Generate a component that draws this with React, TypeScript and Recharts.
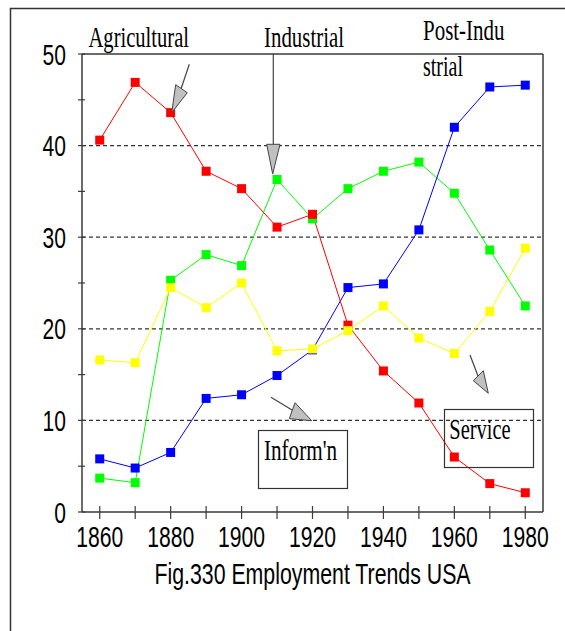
import React from 'react';
import { LineChart, Line, XAxis, YAxis, ReferenceLine } from 'recharts';

const years = [1860, 1870, 1880, 1890, 1900, 1910, 1920, 1930, 1940, 1950, 1960, 1970, 1980];
const agricultural = [40.6, 46.9, 43.6, 37.2, 35.3, 31.1, 32.5, 20.4, 15.4, 11.9, 6.0, 3.1, 2.1];
const industrial = [3.7, 3.2, 25.3, 28.1, 26.9, 36.3, 32.0, 35.3, 37.2, 38.2, 34.8, 28.6, 22.5];
const information = [5.8, 4.8, 6.5, 12.4, 12.8, 14.9, 17.7, 24.5, 24.9, 30.8, 42.0, 46.4, 46.6];
const service = [16.6, 16.3, 24.5, 22.3, 25.0, 17.6, 17.8, 19.8, 22.5, 19.0, 17.3, 21.9, 28.8];

const xTicks = [1860, 1870, 1880, 1890, 1900, 1910, 1920, 1930, 1940, 1950, 1960, 1970, 1980];
const xLabels = [1860, 1880, 1900, 1920, 1940, 1960, 1980];
const yTicks = [0, 5, 10, 15, 20, 25, 30, 35, 40, 45, 50];
const yLabels = [0, 10, 20, 30, 40, 50];
const gridValues = [10, 20, 30, 40];
const title = 'Fig.330 Employment Trends USA';

const data = years.map((year, i) => ({
  year,
  agricultural: agricultural[i],
  industrial: industrial[i],
  information: information[i],
  service: service[i],
}));

const AXIS = '#3a3a3a';
const SANS = "'Liberation Sans', Arial, sans-serif";
const SERIF = "'Liberation Serif', 'Times New Roman', serif";

const XTick = (props: any) => {
  const { x, y, payload } = props;
  const v = payload.value;
  const show = xLabels.includes(v);
  return (
    <g>
      <line x1={x} x2={x} y1={y - 6} y2={y + 7} stroke={AXIS} strokeWidth={1.2} />
      {show && (
        <text x={x} y={y + 35} textAnchor="middle" fontFamily={SANS} fontSize={29} fill="#000"
          textLength={47} lengthAdjust="spacingAndGlyphs">
          {v}
        </text>
      )}
    </g>
  );
};

const YTick = (props: any) => {
  const { x, y, payload } = props;
  const v = payload.value;
  const show = yLabels.includes(v);
  const len = String(v).length;
  return (
    <g>
      <line x1={x - 4} x2={x + 3} y1={y} y2={y} stroke={AXIS} strokeWidth={1.2} />
      {show && (
        <text x={x - 16} y={y + 10.5} textAnchor="end" fontFamily={SANS} fontSize={29} fill="#000"
          textLength={len * 11.7} lengthAdjust="spacingAndGlyphs">
          {v}
        </text>
      )}
    </g>
  );
};

const square = (color: string) => (props: any) => (
  <rect key={`sq-${color}-${props.index}`} x={props.cx - 4.5} y={props.cy - 4.5} width={9} height={9} fill={color} />
);

const Arrow = ({ line, tri }: { line: number[]; tri: number[][] }) => (
  <g>
    <line x1={line[0]} y1={line[1]} x2={line[2]} y2={line[3]} stroke="#444" strokeWidth={1.2} />
    <polygon points={tri.map((p) => p.join(',')).join(' ')} fill="#c0c0c0" stroke="#444" strokeWidth={1} />
  </g>
);

const Label = ({ x, y, w, children }: { x: number; y: number; w: number; children: React.ReactNode }) => (
  <text x={x} y={y} fontFamily={SERIF} fontSize={29} fill="#000" textLength={w} lengthAdjust="spacingAndGlyphs">
    {children}
  </text>
);

export default function App() {
  return (
    <div style={{ position: 'absolute', left: 0, top: 0, width: 565, height: 631, background: '#fff' }}>
      <LineChart width={565} height={631} data={data} margin={{ top: 54, right: 22, bottom: 79, left: 22 }}>
        <XAxis dataKey="year" type="number" domain={[1855, 1985]} ticks={xTicks} interval={0}
          tick={<XTick />} tickLine={false} tickSize={0} tickMargin={0} height={40}
          axisLine={{ stroke: AXIS, strokeWidth: 1.5 }} />
        <YAxis type="number" domain={[0, 50]} ticks={yTicks} interval={0}
          tick={<YTick />} tickLine={false} tickSize={0} tickMargin={0} width={60}
          axisLine={{ stroke: AXIS, strokeWidth: 1.5 }} />
        {gridValues.map((g) => (
          <ReferenceLine key={g} y={g} stroke="#333" strokeWidth={1.3} strokeDasharray="4 3" />
        ))}
        <ReferenceLine y={50} stroke={AXIS} strokeWidth={1.5} />
        <ReferenceLine x={1985} stroke={AXIS} strokeWidth={1.5} />
        <Line type="linear" dataKey="industrial" stroke="#00ff00" strokeWidth={1} dot={square('#00ff00')} isAnimationActive={false} />
        <Line type="linear" dataKey="information" stroke="#0000ff" strokeWidth={1} dot={square('#0000ff')} isAnimationActive={false} />
        <Line type="linear" dataKey="agricultural" stroke="#ff0000" strokeWidth={1} dot={square('#ff0000')} isAnimationActive={false} />
        <Line type="linear" dataKey="service" stroke="#ffff00" strokeWidth={1} dot={square('#ffff00')} isAnimationActive={false} />
      </LineChart>
      <svg width={565} height={631} style={{ position: 'absolute', left: 0, top: 0, pointerEvents: 'none' }}>
        <path d="M10.5 631 V8.5 H565" fill="none" stroke="#333" strokeWidth={1.5} />
        <text transform="translate(312.5,584) scale(0.735,1)" textAnchor="middle" fontFamily={SANS} fontSize={29} fill="#000">
          {title}
        </text>
        <Label x={88.5} y={47} w={100.5}>Agricultural</Label>
        <Label x={264} y={47} w={80}>Industrial</Label>
        <Label x={423} y={40} w={81.5}>Post-Indu</Label>
        <Label x={423} y={76} w={40}>strial</Label>
        <rect x={258.5} y={430.5} width={89} height={58} fill="none" stroke="#333" strokeWidth={1.2} />
        <Label x={264} y={460} w={73}>Inform'n</Label>
        <rect x={444.5} y={409.5} width={89} height={58} fill="none" stroke="#333" strokeWidth={1.2} />
        <Label x={449.3} y={439} w={61.4}>Service</Label>
        <Arrow line={[189.3, 64.3, 181, 89]} tri={[[175.7, 84.7], [187.3, 92.7], [171.7, 112.7]]} />
        <Arrow line={[273.3, 54, 273.3, 144.3]} tri={[[266.7, 144.3], [280, 144.3], [272.7, 174]]} />
        <Arrow line={[271, 397.3, 292, 410]} tri={[[295, 402.7], [289.3, 418.7], [311.7, 420.7]]} />
        <Arrow line={[470, 355, 478, 376]} tri={[[473.3, 380.7], [483.3, 370.7], [488.3, 393.3]]} />
      </svg>
    </div>
  );
}
